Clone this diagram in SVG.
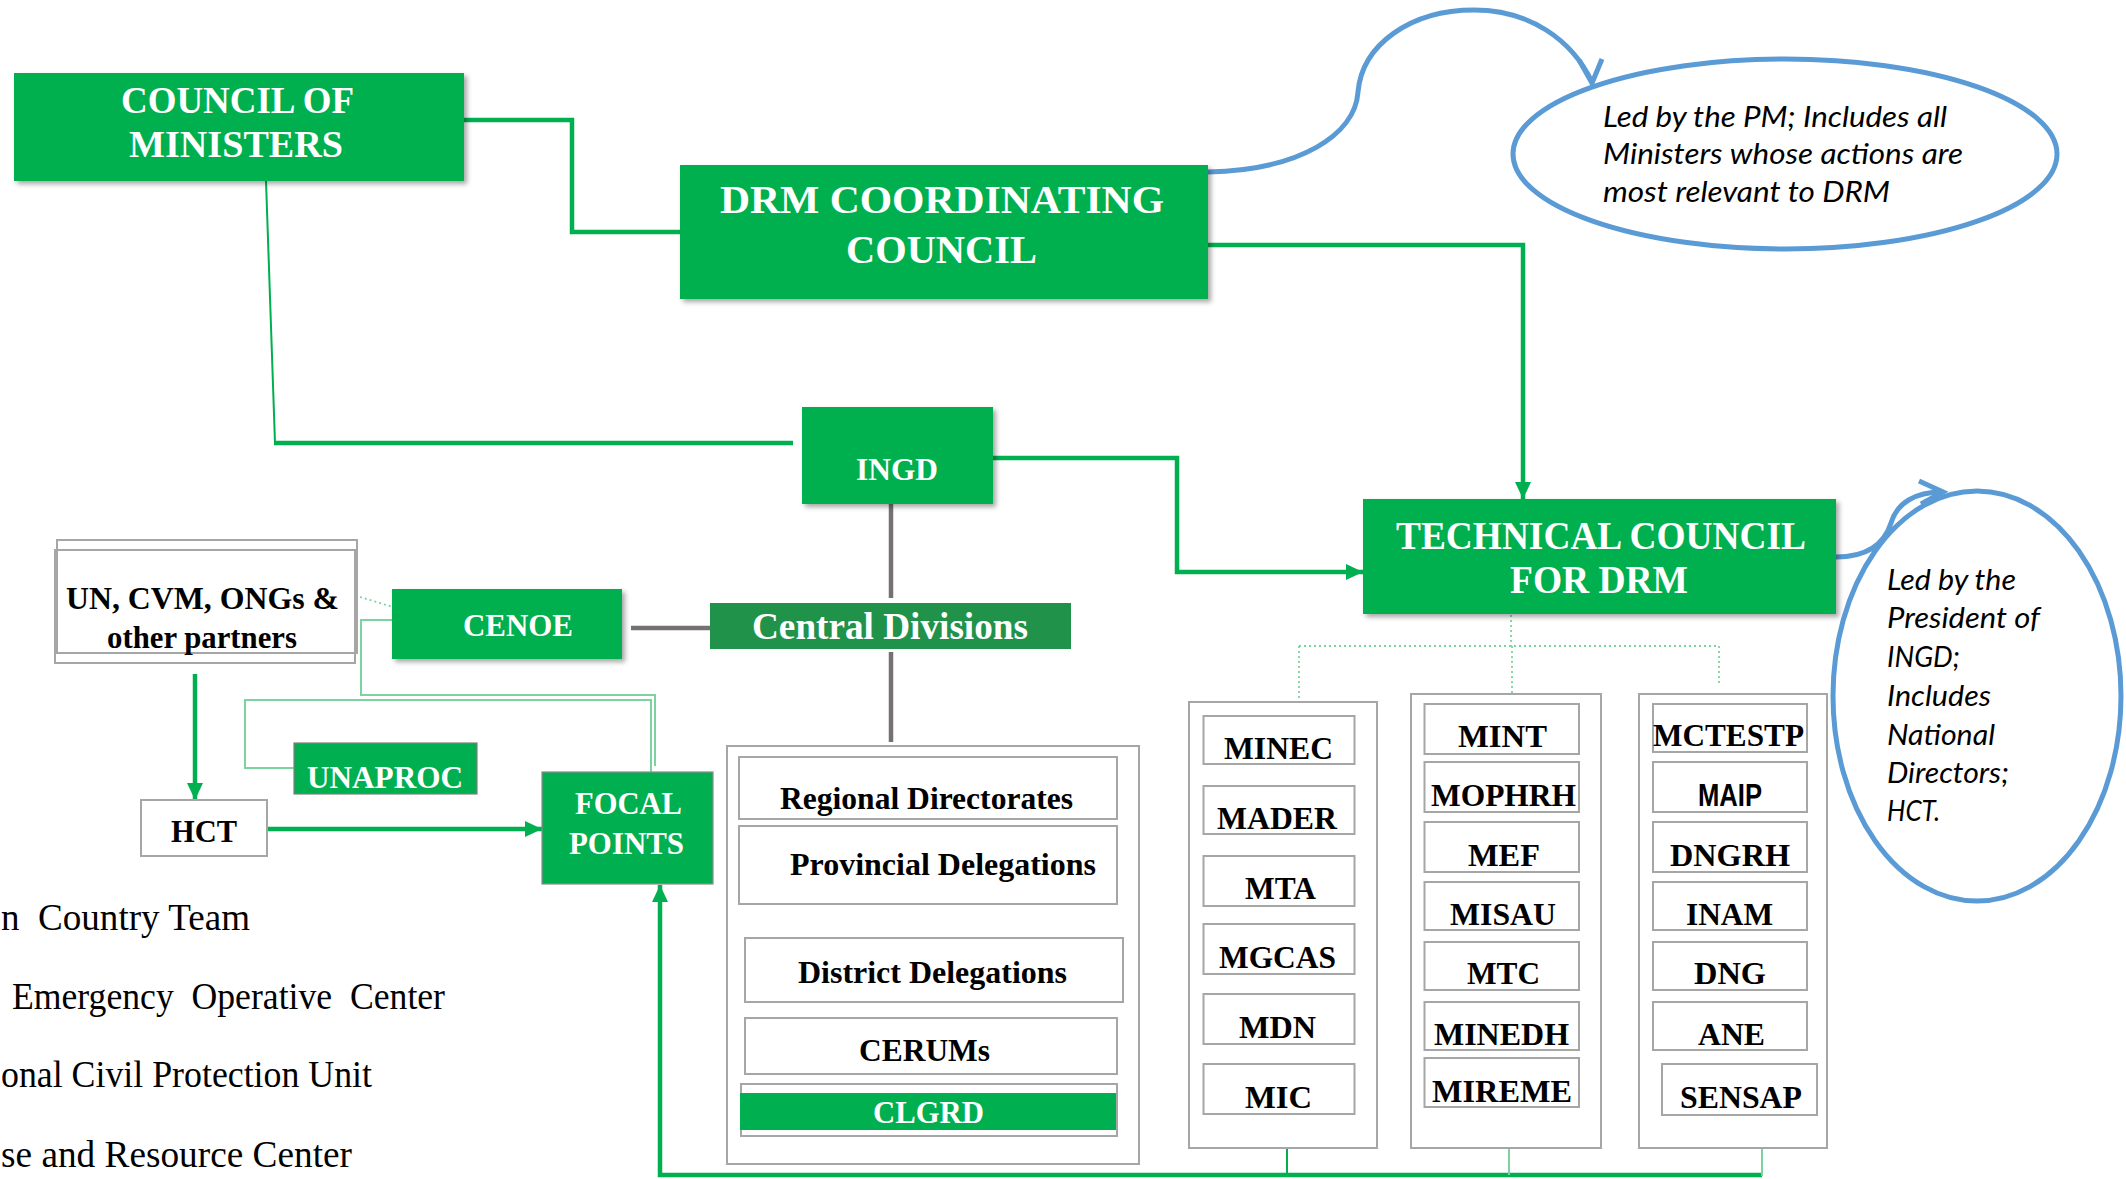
<svg xmlns="http://www.w3.org/2000/svg" width="2126" height="1179" viewBox="0 0 2126 1179">
<style>
.gbox{fill:#00B050;filter:url(#sh)}
.wbox{fill:#FFFFFF;stroke:#A6A6A6;stroke-width:2}
.wt{font-family:"Liberation Serif","Times New Roman",serif;font-weight:bold;fill:#FFFFFF}
.bt{font-family:"Liberation Serif","Times New Roman",serif;font-weight:bold;fill:#000000;font-size:31px}
.lg{font-family:"Liberation Serif","Times New Roman",serif;fill:#000000;font-size:37px}
.it{font-family:"Lato","Liberation Sans",sans-serif;font-style:italic;fill:#000000}
.thick{fill:none;stroke:#00B050;stroke-width:4.5}
.thin{fill:none;stroke:#00B050;stroke-width:2}
.light{fill:none;stroke:#7DD3A0;stroke-width:2}
.dot{fill:none;stroke:#7DD3A0;stroke-width:1.8;stroke-dasharray:2 3}
.gray{fill:none;stroke:#767171;stroke-width:4.5}
.blue{fill:none;stroke:#5B9BD5;stroke-width:5}
</style>
<defs>
<filter id="sh" x="-10%" y="-15%" width="125%" height="140%">
<feDropShadow dx="3" dy="3" stdDeviation="2.5" flood-color="#000000" flood-opacity="0.35"/>
</filter>
<marker id="ah" markerUnits="userSpaceOnUse" markerWidth="17" markerHeight="16" viewBox="0 0 17 16" refX="17" refY="8" orient="auto">
<path d="M0,0 L17,8 L0,16 z" fill="#00B050"/>
</marker>
</defs>
<rect width="2126" height="1179" fill="#FFFFFF"/>

<g id="ellipse-pm">
<ellipse cx="1785" cy="154" rx="272" ry="95" fill="#FFFFFF" stroke="#5B9BD5" stroke-width="5"/>
<text class="it" font-size="29" x="1603" y="127" textLength="344" lengthAdjust="spacingAndGlyphs">Led by the PM; Includes all</text>
<text class="it" font-size="29" x="1603" y="164" textLength="360" lengthAdjust="spacingAndGlyphs">Ministers whose  actions are</text>
<text class="it" font-size="29" x="1603" y="202" textLength="287" lengthAdjust="spacingAndGlyphs">most relevant to DRM</text>
</g>

<g id="ellipse-ingd">
<ellipse cx="1977" cy="696" rx="144" ry="205" fill="#FFFFFF" stroke="#5B9BD5" stroke-width="5"/>
<text class="it" font-size="28" x="1887" y="590" textLength="129" lengthAdjust="spacingAndGlyphs">Led by the</text>
<text class="it" font-size="28" x="1887" y="628" textLength="153" lengthAdjust="spacingAndGlyphs">President of</text>
<text class="it" font-size="28" x="1887" y="667" textLength="73" lengthAdjust="spacingAndGlyphs">INGD;</text>
<text class="it" font-size="28" x="1887" y="706" textLength="104" lengthAdjust="spacingAndGlyphs">Includes</text>
<text class="it" font-size="28" x="1887" y="745" textLength="108" lengthAdjust="spacingAndGlyphs">National</text>
<text class="it" font-size="28" x="1887" y="783" textLength="122" lengthAdjust="spacingAndGlyphs">Directors;</text>
<text class="it" font-size="28" x="1887" y="821" textLength="53" lengthAdjust="spacingAndGlyphs">HCT.</text>
</g>

<g id="connectors">
<polyline class="thick" points="464,120 572,120 572,232 680,232"/>
<line class="thin" x1="266" y1="181" x2="275" y2="443"/>
<line class="thick" x1="274" y1="443" x2="793" y2="443"/>
<polyline class="thick" points="1208,245 1523,245 1523,499" marker-end="url(#ah)"/>
<polyline class="thick" points="993,458 1177,458 1177,572 1363,572" marker-end="url(#ah)"/>
<line class="gray" x1="891" y1="504" x2="891" y2="598"/>
<line class="gray" x1="891" y1="652" x2="891" y2="742"/>
<line class="gray" x1="631" y1="628" x2="711" y2="628"/>
<line class="dot" x1="360" y1="597" x2="393" y2="607"/>
<polyline class="light" points="393,620 361,620 361,695 655,695 655,766"/>
<polyline class="light" points="294,768 245,768 245,700 651,700 651,772"/>
<line class="thick" x1="195" y1="674" x2="195" y2="800" marker-end="url(#ah)"/>
<line class="thick" x1="267" y1="829" x2="542" y2="829" marker-end="url(#ah)"/>
<polyline class="thick" points="1762,1175 660,1175 660,885" marker-end="url(#ah)"/>
<line class="thin" x1="1287" y1="1148" x2="1287" y2="1175"/>
<line class="light" x1="1509" y1="1148" x2="1509" y2="1175"/>
<line class="light" x1="1762" y1="1148" x2="1762" y2="1176"/>
<line class="dot" x1="1511" y1="615" x2="1511" y2="646"/>
<line class="dot" x1="1299" y1="646" x2="1719" y2="646"/>
<line class="dot" x1="1299" y1="646" x2="1299" y2="701"/>
<line class="dot" x1="1512" y1="646" x2="1512" y2="693"/>
<line class="dot" x1="1719" y1="646" x2="1719" y2="685"/>
<path class="blue" d="M1208,172 C1300,170 1355,135 1358,92 C1362,45 1410,10 1474,10 C1530,10 1572,40 1592,82"/>
<polyline class="blue" points="1579,60 1592,83 1602,59"/>
<path class="blue" d="M1836,557 C1866,557 1884,545 1891,523 C1897,503 1915,492 1942,492"/>
<polyline class="blue" points="1919,481 1943,492 1921,504"/>
</g>

<g id="council-of-ministers">
<rect class="gbox" x="14" y="73" width="450" height="108"/>
<text class="wt" font-size="38" x="121" y="113" textLength="233" lengthAdjust="spacingAndGlyphs">COUNCIL OF</text>
<text class="wt" font-size="38" x="129" y="157" textLength="214" lengthAdjust="spacingAndGlyphs">MINISTERS</text>
</g>

<g id="drm-coordinating-council">
<rect class="gbox" x="680" y="165" width="528" height="134"/>
<text class="wt" font-size="41" x="720" y="213" textLength="444" lengthAdjust="spacingAndGlyphs">DRM COORDINATING</text>
<text class="wt" font-size="41" x="846" y="263" textLength="191" lengthAdjust="spacingAndGlyphs">COUNCIL</text>
</g>

<g id="ingd">
<rect class="gbox" x="802" y="407" width="191" height="97"/>
<text class="wt" font-size="31" x="856" y="480" textLength="82" lengthAdjust="spacingAndGlyphs">INGD</text>
</g>

<g id="technical-council">
<rect class="gbox" x="1363" y="499" width="473" height="115"/>
<text class="wt" font-size="39" x="1396" y="549" textLength="410" lengthAdjust="spacingAndGlyphs">TECHNICAL COUNCIL</text>
<text class="wt" font-size="39" x="1510" y="593" textLength="178" lengthAdjust="spacingAndGlyphs">FOR DRM</text>
</g>

<g id="central-divisions">
<rect x="710" y="603" width="361" height="46" fill="#20924A"/>
<text class="wt" font-size="38" x="752" y="639" textLength="276" lengthAdjust="spacingAndGlyphs">Central Divisions</text>
</g>

<g id="cenoe">
<rect class="gbox" x="392" y="589" width="230" height="70"/>
<text class="wt" font-size="31" x="463" y="636" textLength="110" lengthAdjust="spacingAndGlyphs">CENOE</text>
</g>

<g id="un-partners">
<rect x="57" y="540" width="300" height="113" fill="#FFFFFF" stroke="#A6A6A6" stroke-width="2"/>
<rect x="55" y="550" width="300" height="113" fill="none" stroke="#A6A6A6" stroke-width="2"/>
<text class="bt" x="66" y="609" textLength="273" lengthAdjust="spacingAndGlyphs">UN, CVM, ONGs &amp;</text>
<text class="bt" x="107" y="648" textLength="190" lengthAdjust="spacingAndGlyphs">other partners</text>
</g>

<g id="unaproc">
<rect x="294" y="743" width="183" height="51" fill="#00B050" stroke="#7F7F7F" stroke-width="1.2"/>
<text class="wt" font-size="31" x="307" y="788" textLength="156" lengthAdjust="spacingAndGlyphs">UNAPROC</text>
</g>

<g id="hct">
<rect class="wbox" x="141" y="800" width="126" height="56"/>
<text class="bt" x="171" y="842" textLength="66" lengthAdjust="spacingAndGlyphs">HCT</text>
</g>

<g id="focal-points">
<rect x="542" y="772" width="171" height="112" fill="#00B050" stroke="#8C8C8C" stroke-width="1.2"/>
<text class="wt" font-size="31" x="575" y="814" textLength="107" lengthAdjust="spacingAndGlyphs">FOCAL</text>
<text class="wt" font-size="31" x="569" y="854" textLength="115" lengthAdjust="spacingAndGlyphs">POINTS</text>
</g>

<g id="regional-levels">
<rect class="wbox" x="727" y="746" width="412" height="418"/>
<rect class="wbox" x="739" y="757" width="378" height="62"/>
<text class="bt" x="780" y="809" textLength="293" lengthAdjust="spacingAndGlyphs">Regional Directorates</text>
<rect class="wbox" x="739" y="826" width="378" height="78"/>
<text class="bt" x="790" y="875" textLength="306" lengthAdjust="spacingAndGlyphs">Provincial  Delegations</text>
<rect class="wbox" x="745" y="938" width="378" height="64"/>
<text class="bt" x="798" y="983" textLength="269" lengthAdjust="spacingAndGlyphs">District  Delegations</text>
<rect class="wbox" x="745" y="1018" width="372" height="56"/>
<text class="bt" x="859" y="1061" textLength="131" lengthAdjust="spacingAndGlyphs">CERUMs</text>
<rect class="wbox" x="741" y="1084" width="376" height="52"/>
<rect x="740" y="1093" width="376" height="37" fill="#00B050"/>
<text class="wt" font-size="31" x="873" y="1123" textLength="111" lengthAdjust="spacingAndGlyphs">CLGRD</text>
</g>

<g id="ministries-col1">
<rect class="wbox" x="1189" y="702" width="188" height="446"/>
<rect class="wbox" x="1203.5" y="716" width="151" height="48"/>
<text class="bt" x="1224" y="759" textLength="109" lengthAdjust="spacingAndGlyphs">MINEC</text>
<rect class="wbox" x="1203.5" y="786" width="151" height="48"/>
<text class="bt" x="1217" y="829" textLength="120" lengthAdjust="spacingAndGlyphs">MADER</text>
<rect class="wbox" x="1203.5" y="856" width="151" height="50"/>
<text class="bt" x="1245" y="899" textLength="71" lengthAdjust="spacingAndGlyphs">MTA</text>
<rect class="wbox" x="1203.5" y="924" width="151" height="50"/>
<text class="bt" x="1219" y="968" textLength="117" lengthAdjust="spacingAndGlyphs">MGCAS</text>
<rect class="wbox" x="1203.5" y="994" width="151" height="50"/>
<text class="bt" x="1239" y="1038" textLength="77" lengthAdjust="spacingAndGlyphs">MDN</text>
<rect class="wbox" x="1203.5" y="1064" width="151" height="50"/>
<text class="bt" x="1245" y="1108" textLength="67" lengthAdjust="spacingAndGlyphs">MIC</text>
</g>

<g id="ministries-col2">
<rect class="wbox" x="1411" y="694" width="190" height="454"/>
<rect class="wbox" x="1424.5" y="704" width="154.5" height="50"/>
<text class="bt" x="1458" y="747" textLength="89" lengthAdjust="spacingAndGlyphs">MINT</text>
<rect class="wbox" x="1424.5" y="762" width="154.5" height="50"/>
<text class="bt" x="1431" y="806" textLength="145" lengthAdjust="spacingAndGlyphs">MOPHRH</text>
<rect class="wbox" x="1424.5" y="822" width="154.5" height="50"/>
<text class="bt" x="1468" y="866" textLength="72" lengthAdjust="spacingAndGlyphs">MEF</text>
<rect class="wbox" x="1424.5" y="882" width="154.5" height="48"/>
<text class="bt" x="1450" y="925" textLength="106" lengthAdjust="spacingAndGlyphs">MISAU</text>
<rect class="wbox" x="1424.5" y="942" width="154.5" height="48"/>
<text class="bt" x="1467" y="984" textLength="73" lengthAdjust="spacingAndGlyphs">MTC</text>
<rect class="wbox" x="1424.5" y="1002" width="154.5" height="48"/>
<text class="bt" x="1434" y="1045" textLength="135" lengthAdjust="spacingAndGlyphs">MINEDH</text>
<rect class="wbox" x="1424.5" y="1058" width="154.5" height="49"/>
<text class="bt" x="1432" y="1102" textLength="140" lengthAdjust="spacingAndGlyphs">MIREME</text>
</g>

<g id="ministries-col3">
<rect class="wbox" x="1639" y="694" width="188" height="454"/>
<rect class="wbox" x="1653" y="704" width="154" height="48"/>
<text class="bt" x="1653" y="746" textLength="151" lengthAdjust="spacingAndGlyphs">MCTESTP</text>
<rect class="wbox" x="1653" y="762" width="154" height="50"/>
<text x="1698" y="806" font-family="Liberation Sans, Arial, sans-serif" font-weight="bold" font-size="31" fill="#000000" textLength="64" lengthAdjust="spacingAndGlyphs">MAIP</text>
<rect class="wbox" x="1653" y="822" width="154" height="50"/>
<text class="bt" x="1670" y="866" textLength="120" lengthAdjust="spacingAndGlyphs">DNGRH</text>
<rect class="wbox" x="1653" y="882" width="154" height="48"/>
<text class="bt" x="1686" y="925" textLength="87" lengthAdjust="spacingAndGlyphs">INAM</text>
<rect class="wbox" x="1653" y="942" width="154" height="48"/>
<text class="bt" x="1694" y="984" textLength="72" lengthAdjust="spacingAndGlyphs">DNG</text>
<rect class="wbox" x="1653" y="1002" width="154" height="48"/>
<text class="bt" x="1698" y="1045" textLength="67" lengthAdjust="spacingAndGlyphs">ANE</text>
<rect class="wbox" x="1662" y="1064" width="155" height="51"/>
<text class="bt" x="1680" y="1108" textLength="122" lengthAdjust="spacingAndGlyphs">SENSAP</text>
</g>

<g id="legend">
<text class="lg" x="1" y="930" textLength="249" lengthAdjust="spacingAndGlyphs" style="white-space:pre">n  Country Team</text>
<text class="lg" x="12" y="1009" textLength="433" lengthAdjust="spacingAndGlyphs" style="white-space:pre">Emergency  Operative  Center</text>
<text class="lg" x="1" y="1087" textLength="371" lengthAdjust="spacingAndGlyphs" style="white-space:pre">onal Civil Protection Unit</text>
<text class="lg" x="1" y="1167" textLength="351" lengthAdjust="spacingAndGlyphs">se and Resource Center</text>
</g>
</svg>
